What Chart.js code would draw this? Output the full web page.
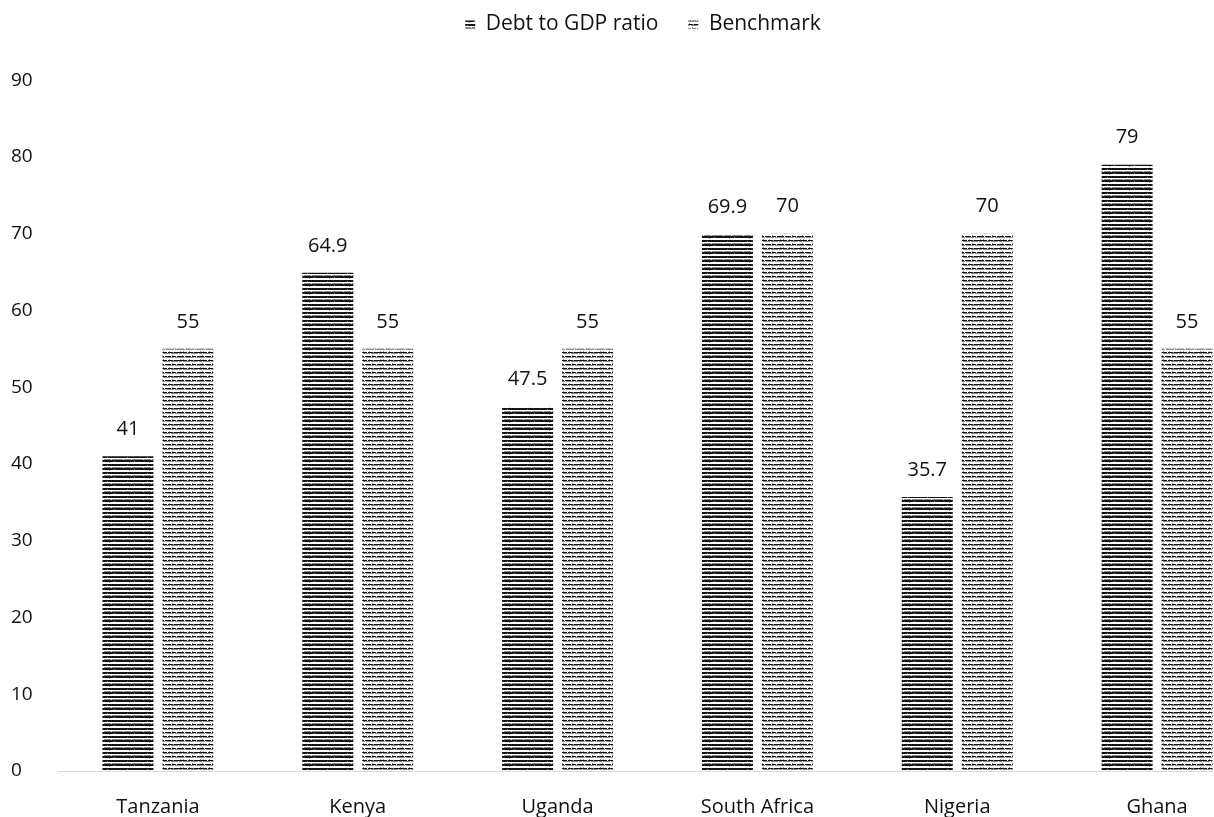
<!DOCTYPE html>
<html>
<head>
<meta charset="utf-8">
<script src="https://cdn.jsdelivr.net/npm/chart.js@4/dist/chart.umd.min.js"></script>
<style>
  html, body { margin: 0; padding: 0; background: #fff; overflow: hidden; }
  #wrap { width: 1305px; height: 817px; }
</style>
</head>
<body>
<div id="wrap"><canvas id="debtChart" width="1305" height="817"></canvas></div>
<script>
  const countries = ['Tanzania', 'Kenya', 'Uganda', 'South Africa', 'Nigeria', 'Ghana']
  const debtToGdp = [41, 64.9, 47.5, 69.9, 35.7, 79]
  const benchmark = [55, 55, 55, 70, 70, 55]
  const yTicks = [0, 10, 20, 30, 40, 50, 60, 70, 80, 90]

  // striped fills, like a hatched print
  function stripes(rows, w) {
    const c = document.createElement('canvas')
    c.width = w
    c.height = rows.length
    const g = c.getContext('2d')
    rows.forEach((row, y) => {
      for (let x = 0; x < w; x++) {
        const ch = row[x % row.length]
        g.fillStyle = ch === '#' ? '#151515' : (ch === '+' ? '#8c8c8c' : '#ffffff')
        g.fillRect(x, y, 1, 1)
      }
    })
    return g.createPattern(c, 'repeat')
  }
  const debtFill = stripes([
    '####################',
    '#######+############',
    '....................',
    '+++.+++++++.++++++++',
    '####################',
    '##############+#####',
    '.........+..........',
    '....................',
  ], 20)
  const benchFill = stripes([
    '#######.#####+######',
    '++.+++++++.+++++++.+',
    '....................',
    '..+.........+.......',
    '####.######.####.###',
    '+++++.++++++++.+++++',
    '....................',
    '+..+.....+..........',
  ], 20)

  const valueLabels = {
    id: 'valueLabels',
    afterDatasetsDraw(chart) {
      const ctx = chart.ctx
      ctx.save()
      ctx.font = '20px "Open Sans", sans-serif'
      ctx.fillStyle = '#111'
      ctx.textAlign = 'center'
      ctx.textBaseline = 'middle'
      chart.data.datasets.forEach((ds, i) => {
        chart.getDatasetMeta(i).data.forEach((bar, j) => {
          ctx.fillText(String(ds.data[j]), bar.x, bar.y - 27)
        })
      })
      ctx.restore()
    }
  }

  // nudge the legend a little to the right of the plot centre
  const legendShift = {
    id: 'legendShift',
    afterLayout(chart) {
      if (chart.legend) {
        chart.legend.left += 9
        chart.legend.right += 9
      }
    }
  }

  new Chart(document.getElementById('debtChart'), {
    type: 'bar',
    data: {
      labels: countries,
      datasets: [
        { label: 'Debt to GDP ratio', data: debtToGdp, backgroundColor: debtFill, borderWidth: 0 },
        { label: 'Benchmark', data: benchmark, backgroundColor: benchFill, borderWidth: 0 }
      ]
    },
    options: {
      responsive: false,
      animation: false,
      datasets: { bar: { categoryPercentage: 0.6, barPercentage: 0.85 } },
      layout: { padding: { left: 11, right: 48, top: -16, bottom: 0 } },
      plugins: {
        legend: {
          position: 'top',
          labels: {
            boxWidth: 10, boxHeight: 8, padding: 30,
            color: '#111',
            font: { family: 'Open Sans', size: 21 }
          }
        },
        // empty spacer between the legend and the plot
        subtitle: {
          display: true, text: '', weight: 500,
          font: { size: 1 }, padding: { top: 0, bottom: 34 }
        },
        tooltip: { enabled: false }
      },
      scales: {
        x: {
          grid: { display: false },
          border: { display: true, color: '#dcdcdc', dash: [1, 6] },
          ticks: { color: '#111', font: { family: 'Open Sans', size: 20 }, padding: 16 },
          afterFit(axis) { axis.height = 46 }
        },
        y: {
          min: 0, max: 90,
          afterBuildTicks(axis) { axis.ticks = yTicks.map(v => ({ value: v })) },
          afterFit(axis) { axis.width = 47 },
          grid: { display: false },
          border: { display: false },
          ticks: { color: '#111', font: { family: 'Open Sans', size: 19 }, crossAlign: 'far', padding: 10 }
        }
      }
    },
    plugins: [valueLabels, legendShift]
  })
</script>
</body>
</html>
